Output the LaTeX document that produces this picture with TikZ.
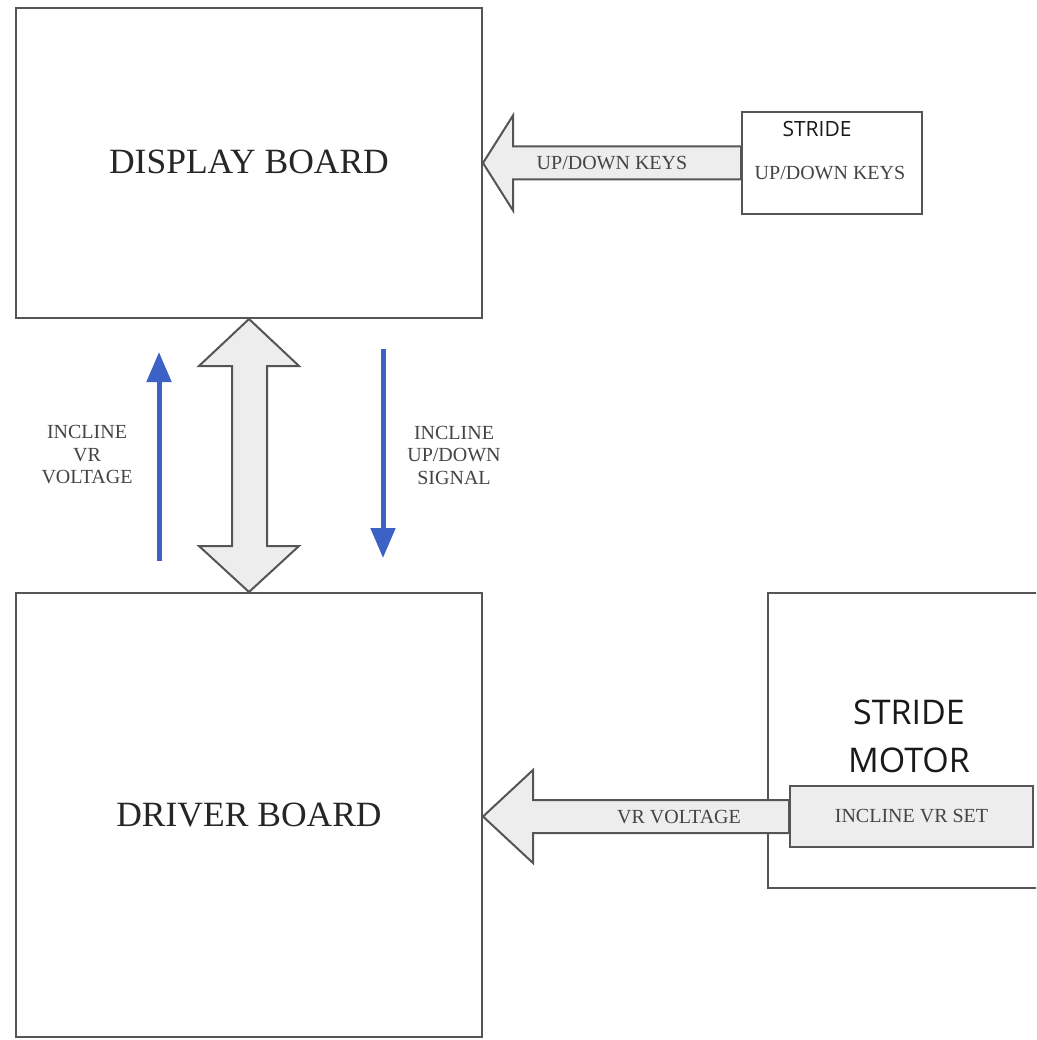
\documentclass[tikz,border=0pt]{standalone}
\usepackage{fontspec}
\setmainfont{Liberation Serif}
\newfontfamily\osans{Open Sans}
\usetikzlibrary{calc,arrows.meta}
\definecolor{edge}{HTML}{555555}
\definecolor{afill}{HTML}{EDEDED}
\definecolor{sigblue}{HTML}{3C62C8}
\definecolor{lbl}{HTML}{444444}
\tikzset{
  board/.style={draw=edge,line width=2pt,inner sep=0pt},
  blockarrow/.style={draw=edge,fill=afill,line width=2pt,line join=miter},
  sigarrow/.style={draw=sigblue,line width=5pt,-{Triangle[width=24pt,length=30pt]}},
  small/.style={text=lbl,font=\fontsize{20}{22.5}\selectfont,align=center,inner sep=0pt},
  big/.style={text=black!85,font=\fontsize{35.5}{40}\selectfont,inner sep=0pt},
  sans/.style={text=black!90,font=\osans\fontsize{34}{48}\selectfont,inner sep=0pt,align=center}
}
\begin{document}
\begin{tikzpicture}[x=1pt,y=-1pt]
\clip (0,0) rectangle (1036,1040);
\fill[white] (0,0) rectangle (1036,1040);
% boards
\node[board,minimum width=466pt,minimum height=310pt] (disp) at (249,163) {};
\node[board,minimum width=466pt,minimum height=444pt] (driver) at (249,815) {};
\node[board,minimum width=180pt,minimum height=102pt] (keys) at (832,163) {};
\node[board,minimum width=277pt,minimum height=295pt] (motor) at (906.5,740.5) {};
\node[board,fill=afill,minimum width=243pt,minimum height=61pt] (vrset) at (911.5,816.5) {};
% board texts
\node[big] (dispt) at (249,162) {DISPLAY BOARD};
\node[big] (drivt) at (249,815) {DRIVER BOARD};
\node[text=black!90,font=\osans\fontsize{21}{24}\selectfont,inner sep=0pt] (kst) at (817,129) {STRIDE};
\node[small] (kkt) at (830,173) {UP/DOWN KEYS};
\node[sans] (mst) at (909,712) {STRIDE};
\node[sans] (mmt) at (909,760) {MOTOR};
\node[small] (vrt) at (vrset.center) {INCLINE VR SET};
% top block arrow: keys -> display
\draw[blockarrow] (disp.east) -- ++(30,-47.5) -- ++(0,31) -- ($(keys.west)+(0,-16.5)$)
  -- ($(keys.west)+(0,16.5)$) -- ($(disp.east)+(30,16.5)$) -- ($(disp.east)+(30,47.5)$) -- cycle;
\node[small] (udk) at (612,163) {UP/DOWN KEYS};
% bottom block arrow: vrset -> driver
\coordinate (btip) at (driver.east |- vrset.west);
\draw[blockarrow] (btip) -- ++(50,-46.5) -- ++(0,30) -- ($(vrset.west)+(0,-16.5)$)
  -- ($(vrset.west)+(0,16.5)$) -- ($(btip)+(50,16.5)$) -- ($(btip)+(50,46.5)$) -- cycle;
\node[small] (vrv) at (679,817) {VR VOLTAGE};
% double block arrow
\draw[blockarrow] (disp.south) -- ++(50,47) -- ++(-32,0) -- ($(driver.north)+(18,-46)$)
  -- ($(driver.north)+(50,-46)$) -- (driver.north) -- ($(driver.north)+(-50,-46)$)
  -- ($(driver.north)+(-17,-46)$) -- ($(disp.south)+(-17,47)$) -- ($(disp.south)+(-50,47)$) -- cycle;
% blue signal arrows
\coordinate (ua) at (159,561);
\coordinate (ub) at (159,352);
\coordinate (da) at (383,349);
\coordinate (db) at (383,558);
\draw[sigarrow] (ua) -- (ub);
\draw[sigarrow] (da) -- (db);
\node[small] (lt) at (87,455) {INCLINE\\VR\\VOLTAGE};
\node[small] (rt) at (454,455) {INCLINE\\UP/DOWN\\SIGNAL};
\end{tikzpicture}
\end{document}
